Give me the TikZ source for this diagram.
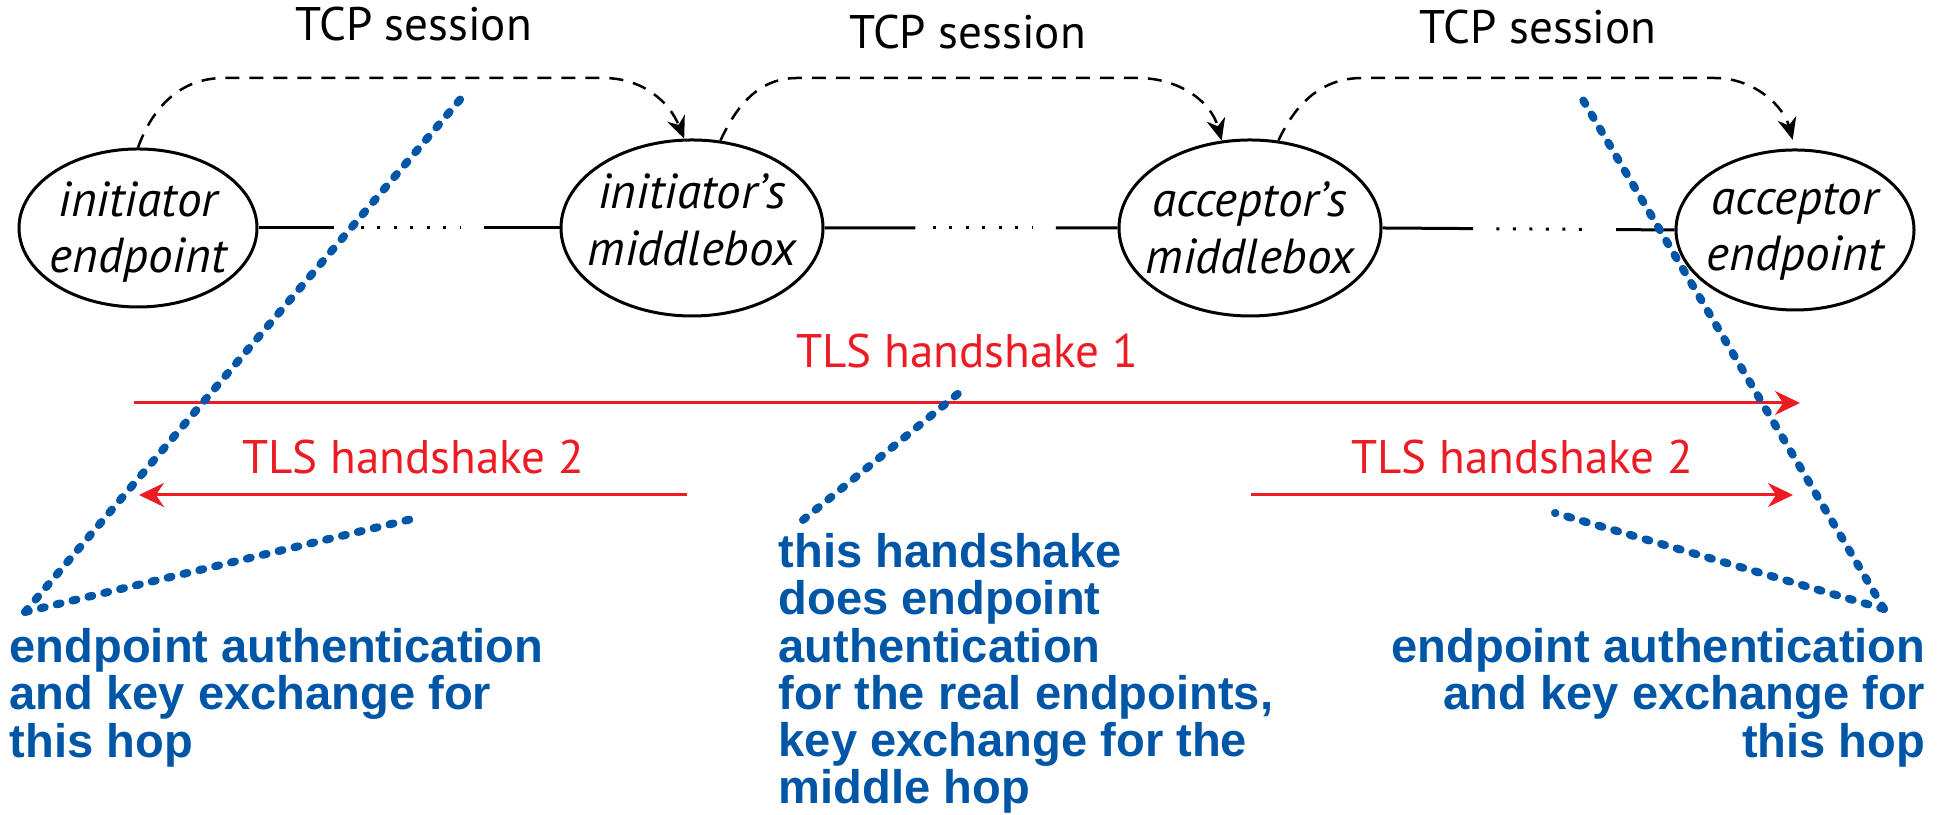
\documentclass[tikz,border=0pt]{standalone}
\usepackage{tikz,pgf}
\usepackage{fontspec}
\usetikzlibrary{shapes.geometric,arrows.meta,calc}
\newfontfamily\labelfont{PT Sans}
\newfontfamily\notefont{Liberation Sans}
\definecolor{tlsred}{RGB}{237,28,36}
\definecolor{noteblue}{RGB}{0,86,166}

\begin{document}
\begin{tikzpicture}[
   host/.style={ellipse,draw,line width=0.03cm,inner sep=0pt},
   hosttext/.style={font=\labelfont\itshape\fontsize{14}{16}\selectfont,align=center,inner sep=0pt},
   caption/.style={font=\labelfont\fontsize{13.4}{16}\selectfont,inner sep=0pt},
   hop/.style={line width=0.03cm},
   gap/.style={line width=0.03cm,dash pattern=on 0.03cm off 0.135cm},
   session/.style={line width=0.025cm,dash pattern=on 0.14cm off 0.1cm,
      -{Stealth[length=0.22cm,width=0.19cm]}},
   tls/.style={tlsred,line width=0.03cm,-{Stealth[length=0.25cm,width=0.24cm]}},
   note/.style={noteblue,font=\notefont\bfseries\fontsize{13.4}{13.4}\selectfont,inner sep=0pt},
   pointer/.style={noteblue,line width=0.08cm,line cap=round,dash pattern=on 0.04cm off 0.123cm}]
   \useasboundingbox (0,0) rectangle (19.48,8.15);

   % the four boxes on the path
   \node[host,minimum width=2.38cm,minimum height=1.58cm] (ie) at (1.38,5.87) {};
   \node[host,minimum width=2.62cm,minimum height=1.76cm] (im) at (6.92,5.87) {};
   \node[host,minimum width=2.62cm,minimum height=1.76cm] (am) at (12.50,5.87) {};
   \node[host,minimum width=2.38cm,minimum height=1.60cm] (ae) at (17.95,5.85) {};
   \node[hosttext] (ietext) at ([yshift=-0.04cm]ie) {initiator\\endpoint};
   \node[hosttext] (imtext) at ([yshift=0.08cm]im) {initiator’s\\middlebox};
   \node[hosttext] (amtext) at (am) {acceptor’s\\middlebox};
   \node[hosttext] (aetext) at ([yshift=-0.02cm]ae) {acceptor\\endpoint};

   % hops between them
   \draw[hop] (ie.east) -- ($(ie.east)!0.25!(im.west)$);
   \draw[gap] ($(ie.east)!0.34!(im.west)$) -- ($(ie.east)!0.67!(im.west)$);
   \draw[hop] ($(ie.east)!0.75!(im.west)$) -- (im.west);
   \draw[hop] (im.east) -- ($(im.east)!0.31!(am.west)$);
   \draw[gap] ($(im.east)!0.37!(am.west)$) -- ($(im.east)!0.71!(am.west)$);
   \draw[hop] ($(im.east)!0.79!(am.west)$) -- (am.west);
   \draw[hop] (am.east) -- ($(am.east)!0.31!(ae.west)$);
   \draw[gap] ($(am.east)!0.39!(ae.west)$) -- ($(am.east)!0.72!(ae.west)$);
   \draw[hop] ($(am.east)!0.80!(ae.west)$) -- (ae.west);

   % tcp sessions
   \coordinate (sessiontop) at (0,7.37);
   \draw[session] (ie.north) to[out=70,in=180] ($(ie.north |- sessiontop)+(0.86,0)$)
      -- node[caption,above=0.36cm] (tcp1) {TCP session}
      ($(im.95 |- sessiontop)+(-0.81,0)$) to[out=0,in=112] (im.95);
   \draw[session] (im.72) to[out=65,in=180] ($(im.72 |- sessiontop)+(0.77,0)$)
      -- node[caption,above=0.28cm] (tcp2) {TCP session}
      ($(am.108 |- sessiontop)+(-0.84,0)$) to[out=0,in=105] (am.108);
   \draw[session,shorten >=0.09cm] (am.72) to[out=65,in=180] ($(am.72 |- sessiontop)+(0.84,0)$)
      -- node[caption,above=0.33cm] (tcp3) {TCP session}
      ($(ae.north |- sessiontop)+(-0.81,0)$) to[out=0,in=105] (ae.north);

   % tls handshakes
   \coordinate (tlsAstart) at (1.34,4.12);
   \coordinate (tlsAend) at (18.00,4.12);
   \coordinate (tlsBstart) at (6.87,3.20);
   \coordinate (tlsBend) at (1.39,3.20);
   \coordinate (tlsCstart) at (12.51,3.20);
   \coordinate (tlsCend) at (17.93,3.20);
   \draw[tls] (tlsAstart) -- node[caption,tlsred,above=0.33cm] (hs1) {TLS handshake 1} (tlsAend);
   \draw[tls] (tlsBstart) -- node[caption,tlsred,above=0.19cm] (hs2) {TLS handshake 2} (tlsBend);
   \draw[tls] (tlsCstart) -- node[caption,tlsred,above=0.19cm] (hs3) {TLS handshake 2} (tlsCend);

   % notes
   \node[note,anchor=north west,align=left] (leftnote) at (0.09,1.87)
      {endpoint authentication\\and key exchange for\\this hop};
   \node[note,anchor=north west,align=left] (midnote) at (7.78,2.82)
      {this handshake\\does endpoint\\authentication\\for the real endpoints,\\key exchange for the\\middle hop};
   \node[note,anchor=north east,align=right] (rightnote) at (19.26,1.87)
      {endpoint authentication\\and key exchange for\\this hop};

   \coordinate (leftfoot) at (0.25,2.03);
   \coordinate (lefttop) at (4.64,7.20);
   \coordinate (leftlow) at (4.12,2.96);
   \coordinate (midfoot) at (8.03,2.95);
   \coordinate (midtop) at (9.65,4.27);
   \coordinate (rightfoot) at (18.84,2.06);
   \coordinate (righttop) at (15.80,7.20);
   \coordinate (rightlow) at (15.55,3.02);
   \draw[pointer] (leftfoot) -- (lefttop);
   \draw[pointer] (leftfoot) -- (leftlow);
   \draw[pointer] (midfoot) -- (midtop);
   \draw[pointer] (rightfoot) -- (righttop);
   \draw[pointer] (rightfoot) -- (rightlow);
\end{tikzpicture}
\end{document}
